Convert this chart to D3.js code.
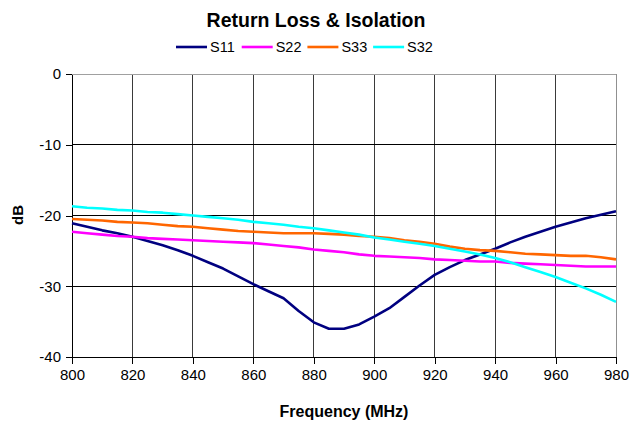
<!DOCTYPE html>
<html>
<head>
<meta charset="utf-8">
<script src="https://cdn.jsdelivr.net/npm/d3@7"></script>
<style>
  body { margin: 0; background: #fff; }
  text { font-family: "Liberation Sans", Arial, sans-serif; fill: #000; }
</style>
</head>
<body>
<script>
const freq = d3.range(800, 981, 5);
// values, every 5 MHz
const s11 = [-21.1, -21.6, -22.1, -22.5, -23.0, -23.6, -24.2, -24.9, -25.7, -26.6,
             -27.5, -28.6, -29.7, -30.7, -31.7, -33.5, -35.1, -36.0, -36.0, -35.4,
             -34.3, -33.1, -31.5, -29.9, -28.4, -27.3, -26.3, -25.5, -24.7, -23.8,
             -23.0, -22.3, -21.6, -21.0, -20.4, -19.9, -19.4];
const s22 = [-22.3, -22.5, -22.7, -22.9, -23.0, -23.2, -23.3, -23.4, -23.5, -23.6,
             -23.7, -23.8, -23.9, -24.1, -24.3, -24.5, -24.8, -25.0, -25.2, -25.5,
             -25.7, -25.8, -25.9, -26.0, -26.2, -26.3, -26.4, -26.5, -26.5, -26.7,
             -26.8, -26.9, -27.0, -27.1, -27.2, -27.2, -27.2];
const s33 = [-20.5, -20.6, -20.7, -20.9, -21.0, -21.1, -21.3, -21.5, -21.6, -21.8,
             -22.0, -22.2, -22.3, -22.4, -22.5, -22.5, -22.5, -22.6, -22.7, -22.9,
             -23.0, -23.2, -23.5, -23.7, -24.0, -24.4, -24.7, -24.9, -25.0, -25.2,
             -25.4, -25.5, -25.6, -25.7, -25.7, -25.9, -26.2];
const s32 = [-18.7, -18.9, -19.0, -19.2, -19.3, -19.5, -19.6, -19.8, -20.0, -20.2,
             -20.4, -20.6, -20.9, -21.1, -21.3, -21.6, -21.8, -22.1, -22.4, -22.7,
             -23.1, -23.4, -23.7, -24.0, -24.3, -24.7, -25.1, -25.5, -26.0, -26.6,
             -27.3, -28.0, -28.7, -29.5, -30.3, -31.2, -32.2];
const seriesNames = ["S11", "S22", "S33", "S32"];
const xTicks = [800, 820, 840, 860, 880, 900, 920, 940, 960, 980];
const yTicks = [-40, -30, -20, -10, 0];

const colors = {S11: "#000080", S22: "#ff00ff", S33: "#ff6600", S32: "#00ffff"};
const series = [s11, s22, s33, s32].map((vals, i) => ({
    name: seriesNames[i],
    points: vals.map((v, j) => [freq[j], v])
}));

const W = 634, H = 422;
const margin = {top: 74, right: 18, bottom: 65, left: 72};

const svg = d3.select("body").append("svg")
    .attr("width", W)
    .attr("height", H);

const x = d3.scaleLinear().domain([800, 980]).range([margin.left, W - margin.right]);
const y = d3.scaleLinear().domain([-40, 0]).range([H - margin.bottom, margin.top]);

// grid
svg.append("g")
    .selectAll("line")
    .data(xTicks.slice(1))
    .enter().append("line")
    .attr("x1", d => x(d)).attr("x2", d => x(d))
    .attr("y1", y(0)).attr("y2", y(-40))
    .attr("stroke", d => d === 980 ? "#909090" : "#3a3a3a")
    .attr("stroke-width", 1)
    .attr("shape-rendering", "crispEdges");

svg.append("g")
    .selectAll("line")
    .data(yTicks.slice(1))
    .enter().append("line")
    .attr("x1", x(800)).attr("x2", x(980))
    .attr("y1", d => y(d)).attr("y2", d => y(d))
    .attr("stroke", d => d === 0 ? "#a0a0a0" : "#000")
    .attr("stroke-width", 1)
    .attr("shape-rendering", "crispEdges");

// axes (plain hyphen minus like the original)
const fmt = d => String(d);
const xAxis = svg.append("g")
    .attr("transform", "translate(0," + y(-40) + ")")
    .call(d3.axisBottom(x).tickValues(xTicks).tickFormat(fmt).tickSize(7).tickPadding(5).tickSizeOuter(0));
const yAxis = svg.append("g")
    .attr("transform", "translate(" + x(800) + ",0)")
    .call(d3.axisLeft(y).tickValues(yTicks).tickFormat(fmt).tickSize(6).tickPadding(5).tickSizeOuter(0));

[xAxis, yAxis].forEach(g => {
    g.select(".domain").attr("stroke", "#000").attr("shape-rendering", "crispEdges");
    g.selectAll(".tick line").attr("stroke", "#000").attr("shape-rendering", "crispEdges");
    g.selectAll(".tick text")
        .attr("font-family", "Liberation Sans, Arial, sans-serif")
        .attr("font-size", 15)
        .attr("fill", "#000");
});

// series lines
const line = d3.line().x(d => x(d[0])).y(d => y(d[1]));
svg.append("g")
    .selectAll("path")
    .data(series)
    .enter().append("path")
    .attr("d", d => line(d.points))
    .attr("fill", "none")
    .attr("stroke", d => colors[d.name])
    .attr("stroke-width", 2.6)
    .attr("stroke-linejoin", "round");

// title
svg.append("text")
    .attr("x", 316)
    .attr("y", 27)
    .attr("text-anchor", "middle")
    .attr("font-size", 19.5)
    .attr("font-weight", "bold")
    .text("Return Loss & Isolation");

// legend
const legend = svg.append("g")
    .selectAll("g")
    .data(seriesNames)
    .enter().append("g")
    .attr("transform", (d, i) => "translate(" + (176 + i * 65.7) + ",47)");
legend.append("line")
    .attr("x1", 0).attr("x2", 31)
    .attr("stroke", d => colors[d])
    .attr("stroke-width", 2.6);
legend.append("text")
    .attr("x", 34)
    .attr("y", 5)
    .attr("font-size", 14.5)
    .text(d => d);

// axis titles
svg.append("text")
    .attr("transform", "translate(23,215) rotate(-90)")
    .attr("text-anchor", "middle")
    .attr("font-size", 15)
    .attr("font-weight", "bold")
    .text("dB");

svg.append("text")
    .attr("x", 344)
    .attr("y", 417)
    .attr("text-anchor", "middle")
    .attr("font-size", 16)
    .attr("font-weight", "bold")
    .text("Frequency (MHz)");
</script>
</body>
</html>
